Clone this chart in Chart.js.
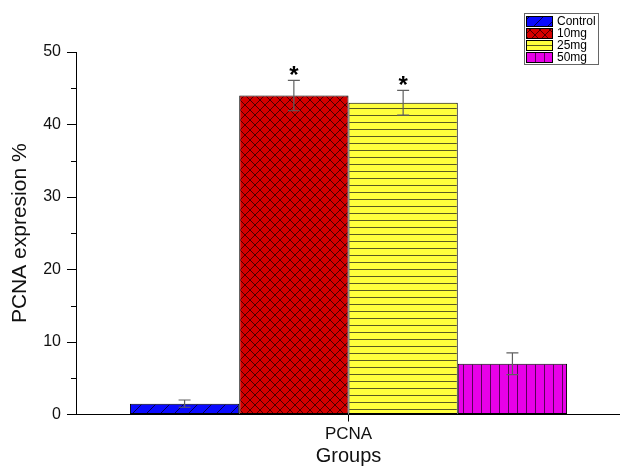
<!DOCTYPE html>
<html>
<head>
<meta charset="utf-8">
<script src="https://cdn.jsdelivr.net/npm/chart.js@4.4.1/dist/chart.umd.min.js"></script>
<style>
  html, body { margin: 0; padding: 0; background: #fff; }
  #wrap { width: 620px; height: 470px; }
</style>
</head>
<body>
<div id="wrap"><canvas id="myChart" width="620" height="470"></canvas></div>
<script>
// data
const groups = ['PCNA'];
const seriesNames = ['Control', '10mg', '25mg', '50mg'];
const means = [1.5, 44, 43, 7];
const errors = [0.5, 2.1, 1.7, 1.5];
const significant = [false, true, true, false];
const yTicks = [0, 10, 20, 30, 40, 50];

const FONT = '"Liberation Sans", Arial, sans-serif';

// hatch patterns
function makePattern(bg, line, size, drawFn) {
  const c = document.createElement('canvas');
  c.width = size; c.height = size;
  const g = c.getContext('2d');
  g.fillStyle = bg;
  g.fillRect(0, 0, size, size);
  g.strokeStyle = line;
  g.lineWidth = 1;
  drawFn(g, size);
  return g.createPattern(c, 'repeat');
}

const fills = [
  makePattern('#0a0aff', '#000050', 14, (g, s) => {
    g.beginPath();
    g.moveTo(0, s); g.lineTo(s, 0);
    g.moveTo(-2, 2); g.lineTo(2, -2);
    g.moveTo(s - 2, s + 2); g.lineTo(s + 2, s - 2);
    g.stroke();
  }),
  makePattern('#d40000', '#4a0000', 10, (g, s) => {
    g.beginPath();
    g.moveTo(0, 0); g.lineTo(s, s);
    g.moveTo(0, s); g.lineTo(s, 0);
    g.stroke();
  }),
  makePattern('#ffff3c', '#5a5a20', 7, (g, s) => {
    g.beginPath();
    g.moveTo(0, 3.5); g.lineTo(s, 3.5);
    g.stroke();
  }),
  makePattern('#e800e8', '#5a005a', 9, (g, s) => {
    g.beginPath();
    g.moveTo(4.5, 0); g.lineTo(4.5, s);
    g.stroke();
  })
];

const datasets = seriesNames.map((name, i) => ({
  label: name,
  data: [means[i]],
  backgroundColor: fills[i],
  borderColor: '#000',
  borderWidth: 1,
  borderSkipped: false
}));

// error bars, stars, minor ticks and the boxed legend
const extras = {
  id: 'extras',
  afterDatasetsDraw(chart) {
    const ctx = chart.ctx;
    const y = chart.scales.y;
    ctx.save();
    chart.data.datasets.forEach((ds, i) => {
      const el = chart.getDatasetMeta(i).data[0];
      const top = y.getPixelForValue(means[i] + errors[i]);
      const bot = y.getPixelForValue(means[i] - errors[i]);
      ctx.strokeStyle = '#606060';
      ctx.lineWidth = 1.2;
      ctx.beginPath();
      ctx.moveTo(el.x, top); ctx.lineTo(el.x, bot);
      ctx.moveTo(el.x - 6, top); ctx.lineTo(el.x + 6, top);
      ctx.moveTo(el.x - 6, bot); ctx.lineTo(el.x + 6, bot);
      ctx.stroke();
      if (significant[i]) {
        ctx.fillStyle = '#000';
        ctx.font = 'bold 24px ' + FONT;
        ctx.textAlign = 'center';
        ctx.textBaseline = 'alphabetic';
        ctx.fillText('*', el.x, top + 3);
      }
    });
    // minor ticks
    ctx.strokeStyle = '#000';
    ctx.lineWidth = 1;
    ctx.beginPath();
    for (let v = 5; v < 50; v += 10) {
      const py = Math.round(y.getPixelForValue(v)) + 0.5;
      ctx.moveTo(y.right - 6, py); ctx.lineTo(y.right, py);
    }
    ctx.stroke();
    // legend box
    const lx = 524, ly = 13, lw = 74, lh = 51;
    ctx.fillStyle = '#fff';
    ctx.fillRect(lx, ly, lw, lh);
    ctx.strokeStyle = '#666';
    ctx.strokeRect(lx + 0.5, ly + 0.5, lw, lh);
    ctx.font = '12px ' + FONT;
    ctx.textAlign = 'left';
    ctx.textBaseline = 'middle';
    seriesNames.forEach((name, i) => {
      const ry = ly + 3 + i * 12;
      ctx.fillStyle = fills[i];
      ctx.fillRect(lx + 2, ry, 26, 10);
      ctx.strokeStyle = '#000';
      ctx.strokeRect(lx + 2.5, ry + 0.5, 26, 10);
      ctx.fillStyle = '#000';
      ctx.fillText(name, lx + 33, ry + 6);
    });
    ctx.restore();
  }
};

const config = {
  type: 'bar',
  data: { labels: groups, datasets: datasets },
  options: {
    responsive: false,
    animation: false,
    layout: { padding: { top: 52, right: 0, left: 4, bottom: 0 } },
    datasets: { bar: { barPercentage: 1, categoryPercentage: 0.805 } },
    plugins: { legend: { display: false }, tooltip: { enabled: false } },
    scales: {
      x: {
        grid: { display: true, drawOnChartArea: false, tickLength: 7, color: '#000', offset: false },
        border: { color: '#000', width: 1 },
        ticks: { color: '#111', font: { size: 17, family: FONT, lineHeight: 1 }, padding: 4 },
        title: { display: true, text: 'Groups', color: '#111', font: { size: 20, family: FONT, lineHeight: 1 }, padding: { top: 0, bottom: 3.5 } }
      },
      y: {
        min: 0, max: 50,
        afterBuildTicks: scale => { scale.ticks = yTicks.map(v => ({ value: v })); },
        grid: { display: true, drawOnChartArea: false, tickLength: 10, color: '#000' },
        border: { color: '#000', width: 1 },
        ticks: { color: '#111', font: { size: 16, family: FONT }, padding: 6 },
        title: { display: true, text: 'PCNA expresion %', color: '#111', font: { size: 21, family: FONT }, padding: { top: 4, bottom: 4 } }
      }
    }
  },
  plugins: [extras]
};

const myChart = new Chart(document.getElementById('myChart'), config);
</script>
</body>
</html>
